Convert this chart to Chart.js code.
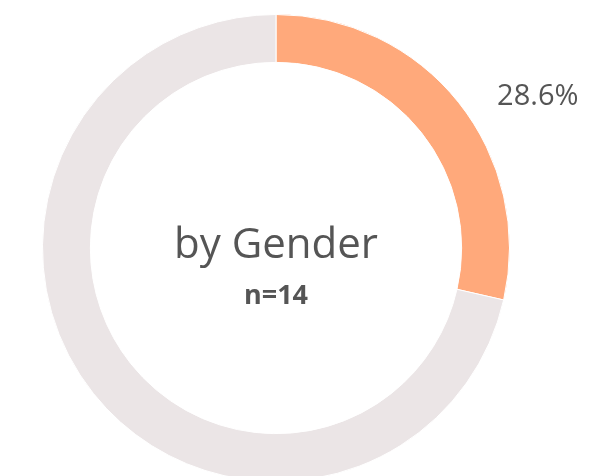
<!DOCTYPE html>
<html>
<head>
<meta charset="utf-8">
<script src="https://cdn.jsdelivr.net/npm/chart.js@4"></script>
<style>
  html, body { margin: 0; padding: 0; width: 603px; height: 476px; overflow: hidden; background: #fff; }
  #wrap { position: relative; width: 603px; height: 496px; }
</style>
</head>
<body>
<div id="wrap"><canvas id="donut"></canvas></div>
<script>
// Data: 4 of 14 respondents
const categories = ['Selected', 'Other'];
const counts = [4, 10];
const sliceColors = ['#ffa97b', '#ebe5e6'];
const centerTitle = 'by Gender';
const centerSub = 'n=14';

const FONT = '"Open Sans", "Noto Sans", sans-serif';
const TEXT = '#555555';

// draws the centre caption and the percent label of the first slice
const donutText = {
  id: 'donutText',
  afterDraw(chart) {
    const { ctx } = chart;
    const arc = chart.getDatasetMeta(0).data[0];
    if (!arc) return;
    const cx = arc.x, cy = arc.y, r = arc.outerRadius;
    ctx.save();
    ctx.fillStyle = TEXT;
    ctx.textAlign = 'center';
    ctx.textBaseline = 'alphabetic';
    ctx.font = '42px ' + FONT;
    ctx.fillText(centerTitle, cx, cy + 10);
    ctx.font = 'bold 27px ' + FONT;
    ctx.fillText(centerSub, cx, cy + 56);

    const total = counts.reduce((a, b) => a + b, 0);
    const pct = (counts[0] / total * 100).toFixed(1) + '%';
    ctx.textAlign = 'left';
    ctx.font = '29px ' + FONT;
    ctx.fillText(pct, cx + r * 0.947, cy - r * 0.613);
    ctx.restore();
  }
};

new Chart(document.getElementById('donut'), {
  type: 'doughnut',
  data: {
    labels: categories,
    datasets: [{
      data: counts,
      backgroundColor: sliceColors,
      borderColor: '#ffffff',
      borderWidth: 1,
    }]
  },
  options: {
    responsive: true,
    maintainAspectRatio: false,
    animation: false,
    cutout: '79.5%',
    layout: { padding: { top: 14, bottom: 14, left: 0, right: 51 } },
    plugins: {
      legend: { display: false },
      tooltip: { enabled: false }
    }
  },
  plugins: [donutText]
});
</script>
</body>
</html>
